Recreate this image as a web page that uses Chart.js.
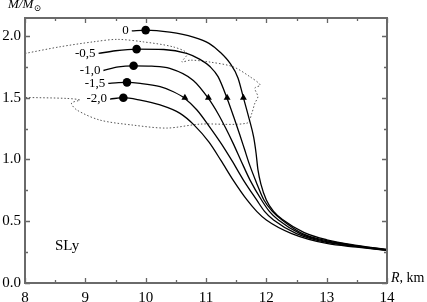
<!DOCTYPE html>
<html>
<head>
<meta charset="utf-8">
<script src="https://cdn.jsdelivr.net/npm/chart.js@4/dist/chart.umd.min.js"></script>
<style>
html,body{margin:0;padding:0;background:#fff;}
canvas{display:block;}
</style>
</head>
<body>
<canvas id="c" width="427" height="302"></canvas>
<script>
// ---- data (R in km, M in solar masses) ----
const curveLabels = ["0", "-0,5", "-1,0", "-1,5", "-2,0"];

const R_0  = [9.77, 10.0, 10.4, 10.79, 11.05, 11.23, 11.4, 11.53, 11.62, 11.72, 11.79, 11.83, 11.86, 11.91, 12.0, 12.12, 12.28, 12.62, 13.0, 13.5, 14.0];
const M_0  = [2.04, 2.047, 2.03, 1.99, 1.94, 1.87, 1.777, 1.66, 1.50, 1.32, 1.18, 1.05, 0.92, 0.80, 0.672, 0.58, 0.51, 0.41, 0.35, 0.305, 0.272];

const R_05 = [9.22, 9.5, 9.85, 10.3, 10.68, 10.9, 11.07, 11.2, 11.35, 11.47, 11.56, 11.64, 11.72, 11.83, 11.96, 12.1, 12.26, 12.6, 13.0, 13.5, 14.0];
const M_05 = [1.858, 1.88, 1.893, 1.89, 1.858, 1.81, 1.75, 1.67, 1.494, 1.33, 1.20, 1.08, 0.96, 0.82, 0.672, 0.58, 0.51, 0.40, 0.342, 0.301, 0.27];

const R_10 = [9.30, 9.55, 9.80, 10.1, 10.40, 10.79, 11.04, 11.2, 11.33, 11.45, 11.58, 11.73, 11.92, 12.05, 12.2, 12.56, 13.0, 13.5, 14.0];
const M_10 = [1.72, 1.75, 1.758, 1.755, 1.737, 1.64, 1.494, 1.37, 1.25, 1.13, 0.99, 0.833, 0.672, 0.58, 0.51, 0.40, 0.335, 0.297, 0.268];

const R_15 = [9.38, 9.55, 9.69, 9.91, 10.24, 10.45, 10.65, 10.85, 11.05, 11.25, 11.43, 11.62, 11.84, 11.97, 12.12, 12.5, 13.0, 13.5, 14.0];
const M_15 = [1.616, 1.622, 1.624, 1.616, 1.589, 1.55, 1.494, 1.40, 1.27, 1.13, 0.99, 0.833, 0.672, 0.58, 0.51, 0.40, 0.328, 0.294, 0.266];

const R_20 = [9.41, 9.63, 9.91, 10.24, 10.57, 10.8, 11.05, 11.25, 11.45, 11.68, 11.84, 12.0, 12.42, 13.0, 13.5, 14.0];
const M_20 = [1.489, 1.50, 1.48, 1.441, 1.373, 1.28, 1.14, 0.99, 0.833, 0.672, 0.58, 0.51, 0.40, 0.32, 0.29, 0.264];

// maximum-mass points (filled circles)
const dotR = [10.0, 9.85, 9.80, 9.69, 9.63];
const dotM = [2.047, 1.893, 1.758, 1.624, 1.50];

// triangles at M = 1.5
const triR = [11.62, 11.35, 11.04, 10.65];
const triM = [1.5, 1.5, 1.5, 1.5];

// dotted contour
const contourR = [8.0, 8.58, 9.13, 9.53, 9.96, 10.45, 10.69, 10.60, 10.74, 11.07, 11.45, 11.73, 11.90, 11.81, 11.86, 11.81, 11.76, 11.68, 10.90, 10.35, 9.79, 9.24, 8.86, 8.77, 8.91, 8.69, 8.0];
const contourM = [1.858, 1.912, 1.952, 1.972, 1.952, 1.912, 1.858, 1.790, 1.804, 1.788, 1.750, 1.669, 1.602, 1.578, 1.507, 1.456, 1.375, 1.294, 1.286, 1.254, 1.278, 1.319, 1.400, 1.456, 1.481, 1.494, 1.502];

const xTicks = [8, 9, 10, 11, 12, 13, 14];
const yTicks = [0.0, 0.5, 1.0, 1.5, 2.0];

// ---- build ----
const zip = (a, b) => a.map((v, i) => ({x: v, y: b[i]}));
const curves = [[R_0, M_0], [R_05, M_05], [R_10, M_10], [R_15, M_15], [R_20, M_20]];

const datasets = [];
datasets.push({data: zip(dotR, dotM), showLine: false, pointStyle: 'circle', pointRadius: 4.3,
  backgroundColor: '#000', borderColor: '#000', borderWidth: 0});
datasets.push({data: zip(triR, triM), showLine: false, pointStyle: 'triangle', pointRadius: 4,
  backgroundColor: '#000', borderColor: '#000', borderWidth: 0});
curves.forEach(c => datasets.push({data: zip(c[0], c[1]), showLine: true, pointRadius: 0,
  borderColor: '#000', borderWidth: 1.3, cubicInterpolationMode: 'monotone', fill: false}));
datasets.push({data: zip(contourR, contourM), showLine: true, pointRadius: 0,
  borderColor: '#555', borderWidth: 1, borderDash: [1.5, 2], tension: 0.3, fill: false});

const serif = '"Liberation Serif", "Times New Roman", serif';

const decor = {
  id: 'decor',
  afterDraw(chart) {
    const ctx = chart.ctx, a = chart.chartArea;
    const xs = chart.scales.x, ys = chart.scales.y;
    ctx.save();
    ctx.strokeStyle = '#666';
    ctx.lineWidth = 1.3;
    for (let v = 8; v <= 14.001; v += 0.5) {
      const px = Math.round(xs.getPixelForValue(v)) + 0.5;
      const len = Math.abs(v - Math.round(v)) < 1e-6 ? 5 : 3;
      ctx.beginPath();
      ctx.moveTo(px, a.bottom); ctx.lineTo(px, a.bottom - len);
      ctx.moveTo(px, a.top); ctx.lineTo(px, a.top + len);
      ctx.stroke();
    }
    for (let v = 0; v <= 2.0001; v += 0.25) {
      const py = Math.round(ys.getPixelForValue(v)) + 0.5;
      const major = Math.abs(v * 2 - Math.round(v * 2)) < 1e-6;
      const len = major ? 5 : 3;
      ctx.beginPath();
      ctx.moveTo(a.left, py); ctx.lineTo(a.left + len, py);
      ctx.moveTo(a.right, py); ctx.lineTo(a.right - len, py);
      ctx.stroke();
    }
    ctx.strokeStyle = '#6a6a6a';
    ctx.lineWidth = 2;
    ctx.strokeRect(a.left, a.top, a.right - a.left, a.bottom - a.top);

    ctx.fillStyle = '#000';
    ctx.font = '13px ' + serif;
    ctx.textAlign = 'right';
    ctx.textBaseline = 'middle';
    curves.forEach((c, i) => {
      const px = xs.getPixelForValue(c[0][0]);
      const py = ys.getPixelForValue(c[1][0]);
      ctx.fillText(curveLabels[i], px - 3, py);
    });
    ctx.textAlign = 'left';
    ctx.textBaseline = 'alphabetic';
    ctx.font = '15px ' + serif;
    ctx.fillText('SLy', 55, 250);
    ctx.font = 'italic 13px ' + serif;
    ctx.fillText('M/M', 8, 8);
    const w = ctx.measureText('M/M').width;
    ctx.font = '9px "DejaVu Serif", serif';
    ctx.fillText('\u2299', 8 + w + 0.5, 11);
    ctx.font = 'italic 14px ' + serif;
    ctx.fillText('R', 391, 282);
    const wr = ctx.measureText('R').width;
    ctx.font = '14px ' + serif;
    ctx.fillText(', km', 391 + wr, 282);
    ctx.restore();
  }
};

new Chart(document.getElementById('c'), {
  type: 'scatter',
  data: {datasets},
  options: {
    responsive: false,
    animation: false,
    devicePixelRatio: 1,
    layout: {padding: {left: 0, right: 40, top: 18, bottom: 0}},
    plugins: {legend: {display: false}, tooltip: {enabled: false}},
    scales: {
      x: {
        type: 'linear', min: 8, max: 14,
        afterBuildTicks: s => { s.ticks = xTicks.map(v => ({value: v})); },
        ticks: {color: '#000', font: {family: serif, size: 15}, padding: 6, maxRotation: 0,
          autoSkip: false, callback: v => String(v)},
        grid: {display: false, drawTicks: false},
        border: {display: false},
        afterFit: s => { s.height = 19; }
      },
      y: {
        type: 'linear', min: 0, max: 2.145,
        afterBuildTicks: s => { s.ticks = yTicks.map(v => ({value: v})); },
        ticks: {color: '#000', font: {family: serif, size: 15}, padding: 4,
          autoSkip: false, callback: v => v.toFixed(1)},
        grid: {display: false, drawTicks: false},
        border: {display: false},
        afterFit: s => { s.width = 25; }
      }
    }
  },
  plugins: [decor]
});
</script>
</body>
</html>
